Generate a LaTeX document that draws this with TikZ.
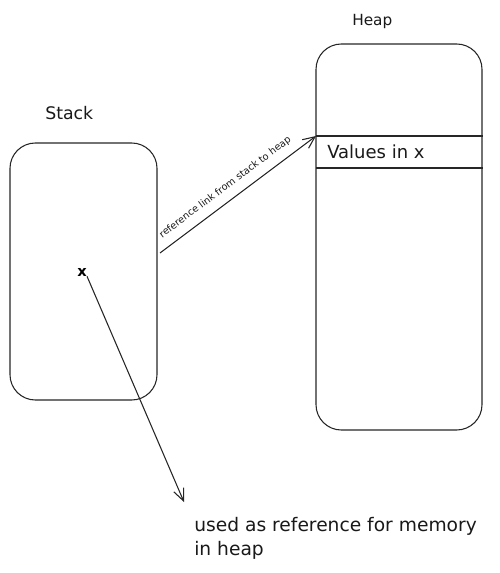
\documentclass[tikz,border=0pt]{standalone}
\usepackage{fontspec}
\setmainfont{DejaVu Sans}
\usetikzlibrary{arrows.meta}
\tikzset{
  ink/.style={draw=black!85, line width=0.8pt},
  membox/.style={ink, rounded corners=19pt, inner sep=0pt},
  lbl/.style={text=black!90, font=\fontsize{11.5}{14}\selectfont, inner sep=0pt},
  barb/.style={ink, -{Straight Barb[length=9pt,width=8pt]}}
}
\begin{document}
\begin{tikzpicture}[x=0.75pt,y=-0.75pt]
\useasboundingbox (0,0) rectangle (499,573);
% boxes
\node[membox, minimum width=110.25pt, minimum height=192.75pt] (stack) at (83.5,271.5) {};
\node[membox, minimum width=124.5pt, minimum height=289.5pt] (heap) at (399,237) {};
% titles
\node[lbl, anchor=west, font=\fontsize{13}{15}\selectfont] (stacklbl) at (45,113) {Stack};
\node[lbl, anchor=west] (heaplbl) at (352,22) {Heap};
% heap slot
\coordinate (s1) at (316,136);
\coordinate (s2) at (316,168);
\draw[ink] (s1) -- (s1 -| heap.east);
\draw[ink] (s2) -- (s2 -| heap.east);
\node[lbl, anchor=west, font=\fontsize{13.5}{15}\selectfont] (vals) at (327,152) {Values in x};
% link from stack to heap
\coordinate (linkstart) at (160,253);
\draw[barb] (linkstart) -- (s1) node[pos=0.47, sloped, above=6pt, font=\fontsize{7.3}{8}\selectfont, text=black!90, inner sep=0pt] (linklbl) {reference link from stack to heap};
% x marker
\node[font=\fontsize{11}{12}\selectfont\bfseries, inner sep=0pt] (xmark) at (82,272) {x};
\coordinate (xend) at (184,502);
\draw[barb] (xmark.south east) -- (xend);
% bottom text
\node[lbl, anchor=north west, align=left, font=\fontsize{14}{18}\selectfont] (note) at (194,517) {used as reference for memory\\in heap};
\end{tikzpicture}
\end{document}
